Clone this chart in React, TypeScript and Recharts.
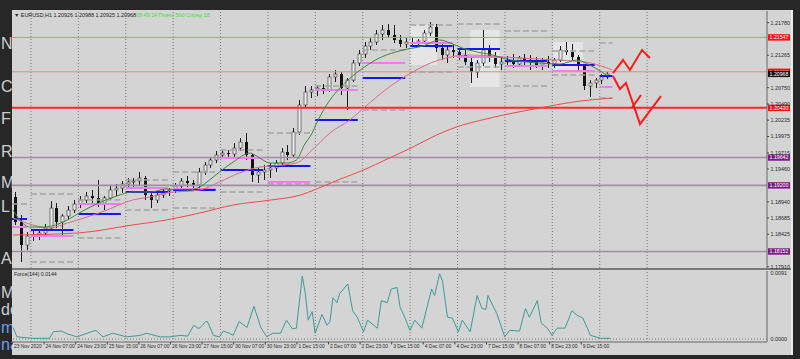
import React from "react";
import { ComposedChart, Bar, Line, XAxis, YAxis, ReferenceLine, ReferenceArea } from "recharts";

const FONT = "'Liberation Sans', Arial, sans-serif";

// x axis is the hourly bar number, first bar = 23 Nov 15:00
const X_MAX = 382.3;
const P_MIN = 1.1789;
const P_MAX = 1.21966;
const F_MIN = -0.00041;
const F_MAX = 0.00938;

// candles (3 hourly bars each)
const opens = [
  1.19016, 1.18619, 1.18254, 1.18397, 1.18413, 1.18445, 1.18524, 1.18841, 1.18619, 1.18714,
  1.18809, 1.18905, 1.18968, 1.19031, 1.19000, 1.18920, 1.19000, 1.19127, 1.19158, 1.19222,
  1.19254, 1.19269, 1.19317, 1.19047, 1.18968, 1.19047, 1.19111, 1.19127, 1.19190, 1.19269,
  1.19238, 1.19206, 1.19412, 1.19523, 1.19602, 1.19682, 1.19713, 1.19698, 1.19793, 1.19888,
  1.19682, 1.19365, 1.19412, 1.19444, 1.19476, 1.19555, 1.19729, 1.19682, 1.20047, 1.20475,
  1.20681, 1.20713, 1.20744, 1.20713, 1.20919, 1.20966, 1.20744, 1.20871, 1.21141, 1.21284,
  1.21410, 1.21474, 1.21601, 1.21664, 1.21585, 1.21506, 1.21442, 1.21474, 1.21442, 1.21490,
  1.21617, 1.21712, 1.21379, 1.21268, 1.21347, 1.21315, 1.21268, 1.21157, 1.20998, 1.21141,
  1.21347, 1.21220, 1.21125, 1.21157, 1.21188, 1.21125, 1.21220, 1.21157, 1.21188, 1.21109,
  1.21157, 1.21125, 1.21188, 1.21347, 1.21315, 1.21236, 1.21093, 1.20776, 1.20824, 1.20871,
  1.20919,
];
const highs = [
  1.19095, 1.18730, 1.18461, 1.18476, 1.18508, 1.18587, 1.18952, 1.18920, 1.18746, 1.18873,
  1.18968, 1.19031, 1.19095, 1.19127, 1.19285, 1.19031, 1.19190, 1.19222, 1.19269, 1.19317,
  1.19317, 1.19412, 1.19349, 1.19079, 1.19111, 1.19158, 1.19158, 1.19238, 1.19317, 1.19349,
  1.19285, 1.19476, 1.19571, 1.19650, 1.19745, 1.19761, 1.19761, 1.19872, 1.19951, 1.20031,
  1.19698, 1.19476, 1.19523, 1.19555, 1.19602, 1.19793, 1.19840, 1.20110, 1.20554, 1.20776,
  1.20776, 1.20792, 1.20808, 1.20966, 1.21030, 1.20998, 1.20903, 1.21188, 1.21347, 1.21474,
  1.21537, 1.21664, 1.21744, 1.21759, 1.21744, 1.21585, 1.21537, 1.21537, 1.21521, 1.21664,
  1.21791, 1.21759, 1.21442, 1.21410, 1.21426, 1.21379, 1.21347, 1.21220, 1.21188, 1.21664,
  1.21426, 1.21315, 1.21236, 1.21252, 1.21284, 1.21252, 1.21284, 1.21268, 1.21236, 1.21220,
  1.21252, 1.21220, 1.21410, 1.21474, 1.21442, 1.21268, 1.21125, 1.20871, 1.20903, 1.20966,
  1.20998,
];
const lows = [
  1.18572, 1.17985, 1.18175, 1.18318, 1.18334, 1.18381, 1.18492, 1.18524, 1.18397, 1.18651,
  1.18762, 1.18841, 1.18920, 1.18905, 1.18857, 1.18809, 1.18968, 1.19031, 1.19079, 1.19158,
  1.19174, 1.19190, 1.18968, 1.18841, 1.18920, 1.19000, 1.19031, 1.19079, 1.19143, 1.19174,
  1.19127, 1.19158, 1.19365, 1.19476, 1.19555, 1.19634, 1.19634, 1.19634, 1.19745, 1.19602,
  1.19254, 1.19238, 1.19285, 1.19317, 1.19412, 1.19523, 1.19602, 1.19634, 1.19999, 1.20427,
  1.20586, 1.20617, 1.20649, 1.20681, 1.20840, 1.20633, 1.20395, 1.20840, 1.21093, 1.21220,
  1.21347, 1.21426, 1.21506, 1.21537, 1.21458, 1.21395, 1.21379, 1.21410, 1.21395, 1.21442,
  1.21569, 1.21315, 1.21188, 1.21141, 1.21220, 1.21188, 1.21109, 1.20824, 1.20903, 1.21093,
  1.21157, 1.21062, 1.21030, 1.21077, 1.21062, 1.21093, 1.21109, 1.21030, 1.21062, 1.21030,
  1.21062, 1.21062, 1.21157, 1.21268, 1.21188, 1.21030, 1.20713, 1.20602, 1.20744, 1.20808,
  1.20887,
];
const closes = [
  1.18619, 1.18254, 1.18397, 1.18413, 1.18445, 1.18524, 1.18841, 1.18619, 1.18714, 1.18809,
  1.18905, 1.18968, 1.19031, 1.19000, 1.18920, 1.19000, 1.19127, 1.19158, 1.19222, 1.19254,
  1.19269, 1.19317, 1.19047, 1.18968, 1.19047, 1.19111, 1.19127, 1.19190, 1.19269, 1.19238,
  1.19206, 1.19412, 1.19523, 1.19602, 1.19682, 1.19713, 1.19698, 1.19793, 1.19888, 1.19682,
  1.19365, 1.19412, 1.19444, 1.19476, 1.19555, 1.19729, 1.19682, 1.20047, 1.20475, 1.20681,
  1.20713, 1.20744, 1.20713, 1.20919, 1.20966, 1.20744, 1.20871, 1.21141, 1.21284, 1.21410,
  1.21474, 1.21601, 1.21664, 1.21585, 1.21506, 1.21442, 1.21474, 1.21442, 1.21490, 1.21617,
  1.21712, 1.21379, 1.21268, 1.21347, 1.21315, 1.21268, 1.21157, 1.20998, 1.21141, 1.21347,
  1.21220, 1.21125, 1.21157, 1.21188, 1.21125, 1.21220, 1.21157, 1.21188, 1.21109, 1.21157,
  1.21125, 1.21188, 1.21347, 1.21315, 1.21236, 1.21093, 1.20776, 1.20824, 1.20871, 1.20919,
  1.20968,
];

// moving averages [bar, price]
const fastMa = [
  [0.5, 1.18809], [4, 1.18651], [9, 1.1854], [16, 1.1854], [22, 1.18572], [28, 1.18651],
  [34, 1.18762], [45, 1.18936], [53, 1.19031], [61, 1.19095], [70, 1.19095], [78, 1.19143],
  [89, 1.19127], [95, 1.19174], [100, 1.19285], [105, 1.19412], [112, 1.19571], [120.5, 1.19713],
  [125.5, 1.19634], [130.5, 1.19555], [139, 1.19555], [144, 1.19602], [148, 1.1984], [152, 1.20031],
  [155, 1.20237], [161, 1.20554], [166, 1.20744], [175, 1.20998], [186, 1.2122], [198, 1.21347],
  [208, 1.2141], [216.5, 1.21506], [222, 1.21458], [228, 1.21379], [235.5, 1.21315], [243.5, 1.21268],
  [248.5, 1.2122], [267, 1.21141], [277.5, 1.21125], [286, 1.21188], [292.5, 1.21109], [301, 1.20951],
];
const midMa = [
  [0.5, 1.18683], [10.6, 1.18572], [19, 1.18524], [28, 1.18603], [38, 1.18698], [48, 1.18809],
  [61, 1.18968], [70, 1.19016], [78, 1.19079], [95, 1.19127], [105, 1.19254], [115, 1.19396],
  [125.5, 1.19491], [131, 1.19507], [144, 1.19555], [152, 1.19761], [161, 1.20031], [171, 1.20237],
  [181, 1.20506], [191, 1.2076], [202, 1.20982], [212, 1.21141], [222, 1.21236], [232, 1.21268],
  [249, 1.21236], [267, 1.21204], [284, 1.21173], [293, 1.21141], [304, 1.2103],
];
const slowMa = [
  [0.5, 1.18413], [33, 1.18445], [61, 1.18572], [78, 1.18651], [95, 1.18762], [112, 1.18889],
  [131, 1.18968], [146, 1.19047], [153, 1.19127], [165, 1.19285], [178, 1.19444], [190, 1.19618],
  [202, 1.19793], [215, 1.19999], [225, 1.20126], [240, 1.20253], [267, 1.20427], [284, 1.20522],
  [304, 1.20586],
];

// daily levels
const dayStart = [0, 9.6, 33.6, 57.6, 81.6, 105.6, 129.6, 153.6, 177.6, 201.6, 225.6, 249.6, 273.6, 297.6];
const dayEnd = [7.6, 31.1, 55.1, 79.1, 103.1, 127.1, 151.1, 175.1, 199.1, 223.1, 247.1, 271.1, 295.1, 304];
const pivot = [1.18667, 1.18492, 1.18746, 1.19095, 1.19127, 1.19444, 1.19507, 1.20237, 1.20903, 1.2141, 1.21363, 1.21173, 1.21109, 1.20935];
const prevClose = [1.1854, 1.18397, 1.18905, 1.19158, 1.19143, 1.19634, 1.19254, 1.20713, 1.21141, 1.21458, 1.21236, 1.21093, 1.21014, 1.2076];
const prevHigh = [1.18905, 1.19063, 1.18968, 1.19285, 1.19412, 1.19761, 1.20031, 1.20776, 1.21347, 1.21744, 1.21759, 1.21648, 1.21331, 1.21458];
const prevLow = [null, 1.17985, 1.18365, 1.18809, 1.18841, 1.19095, 1.19222, 1.19254, 1.20395, 1.20998, 1.21077, 1.20776, 1.20951, 1.20586];

const dayGrid = [9.6, 33.6, 57.6, 81.6, 105.6, 129.6, 153.6, 177.6, 201.6, 225.6, 249.6, 273.6, 297.6, 321.6];

const sessionBoxes = [
  [201.5, 215.2, 1.21109, 1.21744],
  [232, 247, 1.2076, 1.21664],
  [274, 289, 1.20998, 1.21474],
];

// hand drawn projection
const zigUp = [[304.3, 1.20982], [309.4, 1.21188], [312.9, 1.2103], [319, 1.21347], [323, 1.2122]];
const zigDown = [[304.3, 1.20935], [307.8, 1.20728], [310.9, 1.20824], [318, 1.20173], [328.6, 1.20617]];
const zigTick = [[313.9, 1.20427], [318.5, 1.20633]];

const redLevels = [1.21547, 1.21002, 1.2043];
const purpleLevels = [1.19642, 1.192, 1.18152];
const bid = 1.20968;

const priceTicks = [1.2178, 1.21265, 1.2075, 1.2049, 1.20235, 1.19975, 1.19715, 1.1946, 1.1894, 1.18685, 1.18425, 1.1791];

const timeTicks = [0, 16, 32, 48, 64, 80, 96, 112, 128, 144, 160, 176, 192, 208, 224, 240, 256, 272, 288];
const timeLabels = [
  "23 Nov 2020", "24 Nov 07:00", "24 Nov 23:00", "25 Nov 15:00", "26 Nov 07:00", "26 Nov 23:00",
  "27 Nov 15:00", "30 Nov 07:00", "30 Nov 23:00", "1 Dec 15:00", "2 Dec 07:00", "2 Dec 23:00",
  "3 Dec 15:00", "4 Dec 07:00", "4 Dec 23:00", "7 Dec 15:00", "8 Dec 07:00", "8 Dec 23:00", "9 Dec 15:00",
];

// Force(144)
const force = [
  [0.5, 0.0016], [2.5, 0.0003], [10.6, 0.0001], [19, 0.0001], [21, 0.001], [25, 0.0011], [28, 0.0007],
  [33, 0.0003], [38, 0.0008], [42.5, 0.0012], [46, 0.0003], [51, 0.0008], [58, 0.0003], [65, 0.0005],
  [68, 0.0008], [75, 0.0003], [80, 0.0003], [85, 0.0005], [89, 0.0004], [92, 0.0019], [94, 0.0015],
  [95, 0.0015], [98, 0.0024], [99, 0.0024], [102, 0.0005], [105, 0.0003], [107, 0.0011], [110, 0.0008],
  [112, 0.0005], [115, 0.0024], [119, 0.0016], [122.5, 0.0045], [126, 0.0016], [129, 0.0003], [132, 0.0008],
  [136, 0.0008], [139, 0.0026], [142, 0.0014], [144, 0.0015], [147, 0.0087], [148.5, 0.0063], [150, 0.0026],
  [152, 0.0038], [153.5, 0.0008], [157, 0.0034], [159.5, 0.0019], [161, 0.0024], [162.5, 0.0057],
  [164.5, 0.005], [166, 0.0063], [170, 0.0076], [172.5, 0.0039], [175, 0.0029], [178, 0.001], [180, 0.0026],
  [185, 0.0015], [187, 0.0053], [190, 0.005], [192, 0.0069], [195, 0.0071], [196.5, 0.0044], [199, 0.0029],
  [201.5, 0.0012], [204, 0.0026], [207.5, 0.0015], [212.5, 0.0069], [214, 0.006], [216.5, 0.009],
  [218, 0.008], [220.5, 0.003], [223, 0.0029], [226, 0.001], [228, 0.0026], [232, 0.001], [235.5, 0.006],
  [238, 0.0042], [240, 0.0041], [241, 0.006], [245.5, 0.0035], [249.5, 0.0003], [252, 0.0012], [257, 0.0011],
  [260, 0.0042], [262, 0.003], [266, 0.0053], [268, 0.0022], [271, 0.0015], [273.5, 0.0005], [276, 0.0015],
  [280, 0.0015], [283.5, 0.0039], [286, 0.0033], [289, 0.0029], [293, 0.0005], [298, 0.0001], [303, 0.0001],
];

const sideText = [
  { t: "N", y: 52, c: "#cfcfcf" }, { t: "C", y: 95, c: "#cfcfcf" }, { t: "F", y: 127, c: "#cfcfcf" },
  { t: "R", y: 160, c: "#cfcfcf" }, { t: "M", y: 191, c: "#cfcfcf" }, { t: "L", y: 215, c: "#cfcfcf" },
  { t: "A", y: 267, c: "#cfcfcf" }, { t: "MI", y: 301, c: "#cfcfcf" }, { t: "do", y: 318, c: "#cfcfcf" },
  { t: "mp", y: 336, c: "#6f9fe6" }, { t: "na", y: 353, c: "#6f9fe6" },
];

const pts = (arr: number[][]) => arr.map(([t, v]) => ({ t, v }));

function Candle(props: any) {
  const { x, y, width, height, payload } = props;
  if (x == null || y == null || !payload) return null;
  const cx = Math.round(x + width / 2) + 0.5;
  const top = Math.min(y, y + height);
  const h = Math.abs(height);
  const span = payload.high - payload.low || 1e-9;
  const yOf = (p: number) => top + ((payload.high - p) / span) * h;
  const yo = yOf(payload.open);
  const yc = yOf(payload.close);
  const up = payload.close >= payload.open;
  const bt = Math.min(yo, yc);
  const bh = Math.max(1, Math.abs(yo - yc));
  return (
    <g>
      <line x1={cx} x2={cx} y1={top} y2={top + h} stroke="#1a1a1a" strokeWidth={1} />
      <rect x={cx - 1.5} y={bt} width={3} height={bh} fill={up ? "#ececec" : "#111"} stroke={up ? "#333" : "none"} strokeWidth={0.6} />
    </g>
  );
}

function PriceTick(props: any) {
  const { x, y, payload } = props;
  return (
    <g>
      <line x1={x} x2={x + 2} y1={y} y2={y} stroke="#444" />
      <text x={x + 3.5} y={y + 1.9} fontSize={5.4} fill="#2a2a2a" fontFamily={FONT}>
        {payload.value.toFixed(5)}
      </text>
    </g>
  );
}

function ForceTick(props: any) {
  const { x, y, payload } = props;
  return (
    <text x={x + 3.5} y={y + 1.9} fontSize={5.4} fill="#2a2a2a" fontFamily={FONT}>
      {payload.value.toFixed(4)}
    </text>
  );
}

function TimeTick(props: any) {
  const { x, y, payload } = props;
  const i = timeTicks.indexOf(payload.value);
  return (
    <g>
      <line x1={x + 0.5} x2={x + 0.5} y1={y} y2={y + 2.5} stroke="#444" />
      <text x={x + 2} y={y + 6} fontSize={4.9} fill="#2a2a2a" fontFamily={FONT}>
        {timeLabels[i]}
      </text>
    </g>
  );
}

const tag = (text: string, bg: string) => (props: any) => {
  const vb = props.viewBox;
  if (!vb) return null;
  const x = vb.x + vb.width + 1;
  return (
    <g>
      <rect x={x} y={vb.y - 3.2} width={22} height={6.4} fill={bg} />
      <text x={x + 1.6} y={vb.y + 1.9} fontSize={5.2} fill="#fff" fontFamily={FONT}>
        {text}
      </text>
    </g>
  );
};

export default function App() {
  const candles = opens.map((o, i) => ({
    t: 1.5 + i * 3,
    open: o,
    high: highs[i],
    low: lows[i],
    close: closes[i],
    range: [lows[i], highs[i]],
  }));
  const forceData = pts(force);

  return (
    <div style={{ position: "absolute", left: 0, top: 0, width: 800, height: 359, background: "#272727", overflow: "hidden", fontFamily: FONT }}>
      {/* page behind the terminal window, only its left edge shows */}
      <div style={{ position: "absolute", left: 0, top: 0, width: 12, height: 359, overflow: "hidden" }}>
        {sideText.map((s) => (
          <div key={s.t + s.y} style={{ position: "absolute", left: 1, top: s.y - 16, fontSize: 16, color: s.c, lineHeight: "16px", whiteSpace: "nowrap" }}>
            {s.t}
          </div>
        ))}
      </div>
      <div style={{ position: "absolute", left: 12, top: 10, width: 779, height: 345, background: "#d4d4d4", borderRight: "2px solid #ededed" }} />
      <div style={{ position: "absolute", left: 12, top: 268, width: 779, height: 2, background: "#7a7a7a" }} />

      <div style={{ position: "absolute", left: 0, top: 0 }}>
        <ComposedChart width={800} height={270} data={candles} margin={{ top: 11, right: 0, bottom: 2, left: 12 }}>
          <XAxis dataKey="t" type="number" domain={[0, X_MAX]} allowDataOverflow hide />
          <YAxis
            orientation="right"
            type="number"
            domain={[P_MIN, P_MAX]}
            allowDataOverflow
            width={33}
            ticks={priceTicks}
            interval={0}
            tick={<PriceTick />}
            tickLine={false}
            tickSize={0}
            tickMargin={0}
            axisLine={{ stroke: "#666" }}
          />
          {sessionBoxes.map((b, i) => (
            <ReferenceArea key={"box" + i} x1={b[0]} x2={b[1]} y1={b[2]} y2={b[3]} fill="#e5e5e5" fillOpacity={1} stroke="none" ifOverflow="visible" />
          ))}
          {dayGrid.map((g) => (
            <ReferenceLine key={"g" + g} x={g} stroke="#7a7a7a" strokeDasharray="1 2" />
          ))}
          {redLevels.map((p, i) => (
            <ReferenceLine
              key={"r" + p}
              y={p}
              stroke={i === 2 ? "#ff2a2a" : "#ef8080"}
              strokeWidth={i === 2 ? 2 : 1}
              label={tag(p.toFixed(5), "#ff1010")}
            />
          ))}
          {purpleLevels.map((p) => (
            <ReferenceLine key={"p" + p} y={p} stroke="#a48ca4" strokeWidth={1.6} label={tag(p.toFixed(5), "#7e1a86")} />
          ))}
          <ReferenceLine y={bid} stroke="none" label={tag(bid.toFixed(5), "#111")} />
          {dayStart.map((s, i) => (
            <React.Fragment key={"d" + i}>
              {prevHigh[i] != null && (
                <ReferenceLine segment={[{ x: s, y: prevHigh[i] }, { x: dayEnd[i], y: prevHigh[i] }]} stroke="#a4a4a4" strokeWidth={1.5} strokeDasharray="6 3" ifOverflow="visible" />
              )}
              {prevLow[i] != null && (
                <ReferenceLine segment={[{ x: s, y: prevLow[i] }, { x: dayEnd[i], y: prevLow[i] }]} stroke="#a4a4a4" strokeWidth={1.5} strokeDasharray="6 3" ifOverflow="visible" />
              )}
              <ReferenceLine segment={[{ x: s, y: prevClose[i] }, { x: dayEnd[i], y: prevClose[i] }]} stroke="#f27af2" strokeWidth={2} ifOverflow="visible" />
              <ReferenceLine segment={[{ x: s, y: pivot[i] }, { x: dayEnd[i], y: pivot[i] }]} stroke="#1515ff" strokeWidth={2} ifOverflow="visible" />
            </React.Fragment>
          ))}
          <Line data={pts(slowMa)} dataKey="v" type="monotone" stroke="#f04848" strokeWidth={1} dot={false} isAnimationActive={false} />
          <Line data={pts(midMa)} dataKey="v" type="monotone" stroke="#dc6a86" strokeWidth={1} dot={false} isAnimationActive={false} />
          <Line data={pts(fastMa)} dataKey="v" type="monotone" stroke="#3a8a3a" strokeWidth={1} dot={false} isAnimationActive={false} />
          <Bar dataKey="range" barSize={3} shape={<Candle />} isAnimationActive={false} />
          <Line data={pts(zigUp)} dataKey="v" type="linear" stroke="#ff1a1a" strokeWidth={2} dot={false} isAnimationActive={false} />
          <Line data={pts(zigDown)} dataKey="v" type="linear" stroke="#ff1a1a" strokeWidth={2} dot={false} isAnimationActive={false} />
          <Line data={pts(zigTick)} dataKey="v" type="linear" stroke="#ff1a1a" strokeWidth={2} dot={false} isAnimationActive={false} />
        </ComposedChart>
      </div>

      <div style={{ position: "absolute", left: 0, top: 268 }}>
        <ComposedChart width={800} height={91} data={forceData} margin={{ top: 3, right: 0, bottom: 0, left: 12 }}>
          <XAxis
            dataKey="t"
            type="number"
            domain={[0, X_MAX]}
            allowDataOverflow
            ticks={timeTicks}
            interval={0}
            tick={<TimeTick />}
            tickLine={false}
            tickSize={0}
            tickMargin={0}
            axisLine={{ stroke: "#666" }}
            height={17}
          />
          <YAxis
            orientation="right"
            type="number"
            domain={[F_MIN, F_MAX]}
            allowDataOverflow
            width={33}
            ticks={[0, 0.0091]}
            interval={0}
            tick={<ForceTick />}
            tickLine={false}
            tickSize={0}
            tickMargin={0}
            axisLine={{ stroke: "#666" }}
          />
          {dayGrid.map((g) => (
            <ReferenceLine key={"fg" + g} x={g} stroke="#7a7a7a" strokeDasharray="1 2" />
          ))}
          <ReferenceLine y={0} stroke="#7a7a7a" strokeDasharray="1 2" />
          <Line dataKey="v" type="linear" stroke="#3c9a9a" strokeWidth={1} dot={false} isAnimationActive={false} />
        </ComposedChart>
      </div>

      <svg width={800} height={359} style={{ position: "absolute", left: 0, top: 0, pointerEvents: "none" }}>
        <text x={14} y={17} fontSize={5.4} fill="#222" fontFamily={FONT}>
          {"▼  EURUSD,H1  1.20926 1.20988 1.20925 1.20968"}
        </text>
        <text x={136} y={17} fontSize={5.4} fill="#3ee03e" fontFamily={FONT}>
          08:49:14 Плечо 500 Спред 18
        </text>
        <text x={14} y={276} fontSize={5.2} fill="#222" fontFamily={FONT}>
          Force(144) 0.0144
        </text>
      </svg>
    </div>
  );
}
